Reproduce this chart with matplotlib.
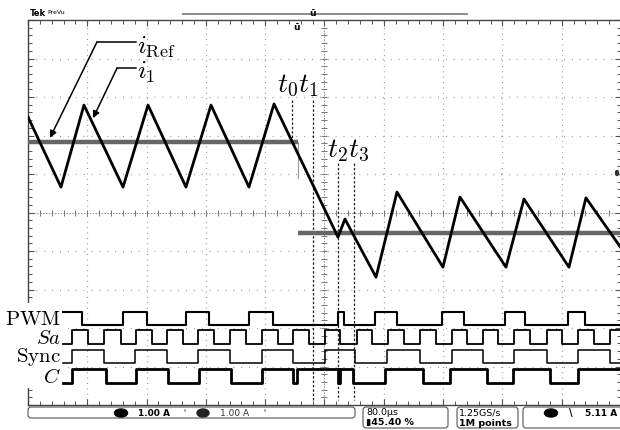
import matplotlib.pyplot as plt
import matplotlib.patches as mpatches
import numpy as np

plt.rcParams['mathtext.fontset'] = 'cm'

# --- scope setup: 80 us/div horizontally, 10 divisions each way ---
T_DIV = 80.0
T_SPAN = 10 * T_DIV

# i1 inductor current, vertices (time in us, level in divisions)
i1_t = [0, 44.5, 75.5, 128.2, 161.9, 213.1, 246.9, 298.1, 331.9, 418.2, 427.6,
        469.5, 497.8, 559.8, 582.8, 644.8, 669.1, 729.8, 752.7, 800]
i1_y = [2.48, 0.66, 2.79, 0.66, 2.79, 0.66, 2.79, 0.66, 2.82, -0.64, -0.17,
        -1.68, 0.53, -1.42, 0.40, -1.42, 0.35, -1.42, 0.38, -0.92]

# reference current step
iref_step_t = 363.6
iref_hi = 1.82
iref_lo = -0.53
iref_edge_end = 0.90

# cursors t0..t3 (us) and their top ends (div)
cursor_t = [356.1, 384.5, 418.2, 439.8]
cursor_top = [2.92, 2.92, 1.29, 1.29]
cursor_bot = [1.79, -4.87, -4.87, -4.87]

# logic traces: toggle times (us), starting level, low/high levels (div)
trace_start = 47.0
pwm_edges = [72.8, 128.2, 160.5, 213.1, 244.2, 298.1, 330.5, 418.2, 426.3, 468.1,
             497.8, 558.5, 588.2, 643.5, 670.4, 728.5, 751.4]
sa_edges = [59.4, 80.9, 102.5, 125.5, 145.7, 167.3, 187.5, 209.1, 229.3, 250.9,
            272.5, 294.1, 315.7, 337.3, 357.5, 379.1, 400.7, 420.9, 443.8, 464.1,
            485.6, 507.2, 528.8, 550.4, 572.0, 592.2, 613.8, 634.0, 655.6, 677.2,
            700.1, 720.4, 742.0, 763.5, 785.1]
sync_edges = [59.4, 102.5, 144.3, 187.5, 229.3, 272.5, 315.7, 357.5, 400.7, 441.1,
              484.3, 528.8, 572.0, 613.8, 655.6, 700.1, 742.0, 785.1]
c_edges = [59.4, 105.2, 145.7, 188.9, 230.7, 273.8, 315.7, 357.5, 362.9, 418.2,
           419.3, 420.2, 421.3, 438.4, 481.6, 532.8, 569.2, 619.2, 654.3, 704.1, 741.9]

logic_names = [r'$\mathrm{PWM}$', r'$Sa$', r'$\mathrm{Sync}$', r'$C$']
logic_edges = [pwm_edges, sa_edges, sync_edges, c_edges]
logic_start_high = [True, False, False, False]
logic_lo = [-2.92, -3.42, -3.91, -4.42]
logic_hi = [-2.58, -3.05, -3.57, -4.06]
logic_lw = [1.5, 1.3, 1.1, 2.0]


def square(edges, high, lo, hi):
    t = [trace_start]
    v = [hi if high else lo]
    for e in edges:
        t += [e, e]
        v += [v[-1], lo if high else hi]
        high = not high
    t.append(T_SPAN)
    v.append(v[-1])
    return t, v


fig = plt.figure(figsize=(6.2, 4.3), dpi=100)
fig.patch.set_facecolor('white')
ax = fig.add_axes([28 / 620, 25 / 430, 593 / 620, 385 / 430])
ax.set_xlim(0, T_SPAN)
ax.set_ylim(-5, 5)

# graticule
grid_c = '#9a9a9a'
ax.set_xticks(np.arange(0, T_SPAN + 1, T_DIV))
ax.set_xticks(np.arange(0, T_SPAN + 1, T_DIV / 5), minor=True)
ax.set_yticks(np.arange(-5, 6, 1))
ax.set_yticks(np.arange(-5, 5.01, 0.2), minor=True)
ax.tick_params(which='both', direction='in', top=True, right=True,
               labelbottom=False, labelleft=False, color='#555555')
ax.tick_params(which='major', length=4, width=0.8)
ax.tick_params(which='minor', length=3, width=0.7)
for sp in ax.spines.values():
    sp.set_color('#444444')
    sp.set_linewidth(1.0)
for gx in np.arange(T_DIV, T_SPAN, T_DIV):
    if abs(gx - T_SPAN / 2) > 1:
        ax.axvline(gx, color=grid_c, lw=0.9, dashes=(0.8, 3.5), zorder=1)
for gy in range(-4, 5):
    if gy != 0:
        ax.axhline(gy, color=grid_c, lw=0.9, dashes=(0.8, 5.5), zorder=1)
ax.axhline(0, color='#8a8a8a', lw=0.7, dashes=(1.5, 1.5), zorder=1)
ax.axvline(T_SPAN / 2, color='#8a8a8a', lw=0.7, dashes=(1.5, 1.5), zorder=1)
mx = np.arange(0, T_SPAN + 1, T_DIV / 5)
ax.plot(mx, np.zeros_like(mx), ls='none', marker='|', ms=4, mew=0.7, color='#777777', zorder=1)
my = np.arange(-5, 5.01, 0.2)
ax.plot(np.full_like(my, T_SPAN / 2), my, ls='none', marker='_', ms=5, mew=0.7, color='#777777', zorder=1)

# reference current
ax.plot([0, iref_step_t], [iref_hi, iref_hi], color='#666666', lw=3.2, solid_capstyle='butt', zorder=3)
ax.plot([iref_step_t + 0.8, T_SPAN], [iref_lo, iref_lo], color='#666666', lw=3.2, solid_capstyle='butt', zorder=3)
ax.plot([iref_step_t, iref_step_t], [iref_hi, iref_edge_end], color='#999999', lw=0.8, zorder=3)

# i1
ax.plot(i1_t, i1_y, color='black', lw=2.0, zorder=4)

# cursors
for ct, top, bot in zip(cursor_t, cursor_top, cursor_bot):
    ax.plot([ct, ct], [top, bot], color='#222222', lw=0.9, dashes=(2.0, 1.5), zorder=2)

# logic traces
for edges, hs, lo, hi, lw in zip(logic_edges, logic_start_high, logic_lo, logic_hi, logic_lw):
    t, v = square(edges, hs, lo, hi)
    ax.plot(t, v, color='black', lw=lw, zorder=4)

# white patch behind the logic labels
ax.add_patch(mpatches.Rectangle((-6, -4.56), 51, 2.22, facecolor='white', edgecolor='none',
                                zorder=5, clip_on=False))
for name, lo, hi in zip(logic_names, logic_lo, logic_hi):
    ax.text(44.5, (lo + hi) / 2 - 0.02, name, ha='right', va='center', fontsize=15, zorder=6)

# annotations
ax.text(147, 4.33, r'$i_{\mathrm{Ref}}$', fontsize=18.5, ha='left', va='center', zorder=6)
ax.text(147, 3.66, r'$i_1$', fontsize=18.5, ha='left', va='center', zorder=6)
ax.plot([146, 93.1], [4.43, 4.43], color='black', lw=1.1, zorder=6)
ax.annotate('', xy=(29.7, 1.94), xytext=(93.1, 4.43), zorder=6,
            arrowprops=dict(arrowstyle='-|>', color='black', lw=1.1, mutation_scale=10,
                            shrinkA=0, shrinkB=0))
ax.plot([146, 120.1], [3.75, 3.75], color='black', lw=1.1, zorder=6)
ax.annotate('', xy=(87.7, 2.45), xytext=(120.1, 3.75), zorder=6,
            arrowprops=dict(arrowstyle='-|>', color='black', lw=1.1, mutation_scale=10,
                            shrinkA=0, shrinkB=0))
ax.text(364.5, 3.30, r'$t_0t_1$', fontsize=20, ha='center', va='center', zorder=6)
ax.text(431.5, 1.62, r'$t_2t_3$', fontsize=20, ha='center', va='center', zorder=6)

# scope chrome (pixel overlay)
ui = fig.add_axes([0, 0, 1, 1])
ui.set_xlim(0, 620)
ui.set_ylim(430, 0)
ui.axis('off')
ui.text(30, 13, 'Tek', fontsize=6, fontweight='bold', va='center', ha='left')
ui.text(47, 13, 'PreVu', fontsize=4.5, va='center', ha='left')
ui.plot([183, 467], [14, 14], color='#808080', lw=1.3)
ui.text(313, 14, '\u016d', fontsize=6.5, fontweight='bold', ha='center', va='center')
ui.text(296, 27, '\u016d', fontsize=6.5, fontweight='bold', ha='center', va='center')
ui.add_patch(mpatches.Ellipse((617, 173), 3, 5, color='#333333'))

boxes = [(28, 407, 327, 11), (363, 407, 85, 21), (457, 407, 61, 21), (523, 407, 110, 21)]
for bx, by, bw, bh in boxes:
    ui.add_patch(mpatches.FancyBboxPatch((bx, by), bw, bh, boxstyle='round,pad=0,rounding_size=3',
                                         facecolor='white', edgecolor='#555555', lw=0.8))
ui.add_patch(mpatches.Ellipse((121, 413), 13, 8, color='black'))
ui.text(138, 413, '1.00 A', fontsize=6.5, fontweight='bold', va='center')
ui.text(184, 413, '\u1d2e', fontsize=4, va='center', color='#555555')
ui.add_patch(mpatches.Ellipse((203, 413), 12, 8, color='#222222'))
ui.text(220, 413, '1.00 A', fontsize=6.5, va='center', color='#333333')
ui.text(264, 413, '\u1d2e', fontsize=4, va='center', color='#555555')
ui.text(366, 412.5, '80.0\u00b5s', fontsize=6.8, va='center')
ui.text(366, 423, '\u25ae45.40 %', fontsize=6.8, va='center', fontweight='bold')
ui.text(459, 412.5, '1.25GS/s', fontsize=6.8, va='center')
ui.text(459, 423, '1M points', fontsize=6.8, va='center', fontweight='bold')
ui.add_patch(mpatches.Ellipse((551, 413), 13, 8, color='black'))
ui.text(569, 413, '\\', fontsize=7, fontweight='bold', va='center')
ui.text(617, 413, '5.11 A', fontsize=6.5, fontweight='bold', va='center', ha='right')

fig.savefig('out.png', dpi=100, facecolor='white')
